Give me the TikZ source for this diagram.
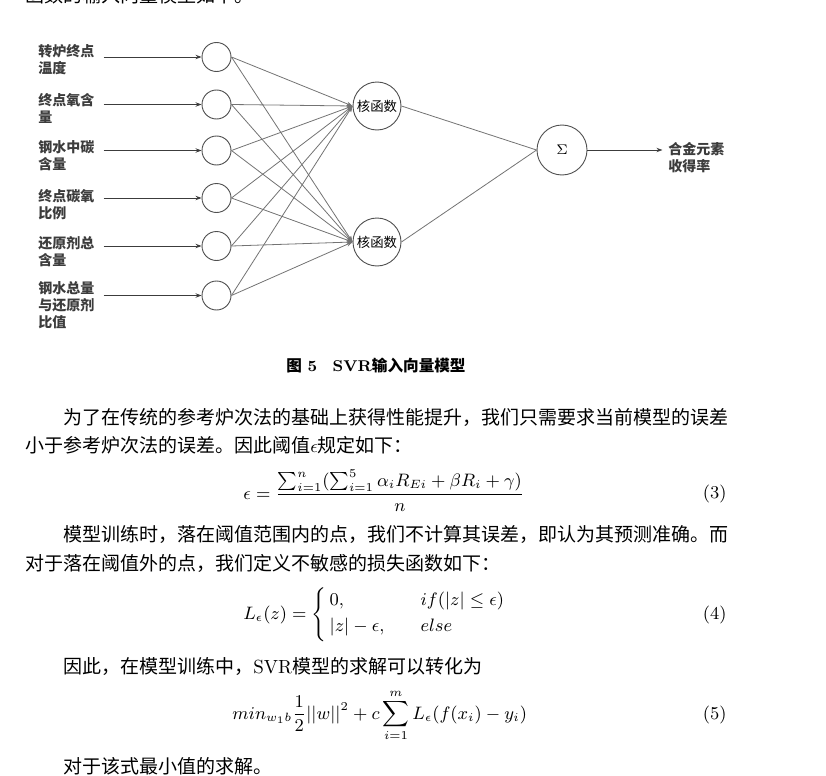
\documentclass[tikz,border=0pt]{standalone}
\usepackage{amsmath}
\usepackage{amssymb}
\usepackage{fontspec}
\usepackage{tikz}
\usetikzlibrary{arrows.meta,positioning}
\newfontfamily\cjk{Noto Sans CJK SC}
\usepackage{xcolor}
\definecolor{circgray}{RGB}{80,80,80}
\definecolor{linkgray}{RGB}{115,115,115}
\definecolor{feedgray}{RGB}{60,60,60}
\definecolor{labelgray}{RGB}{60,60,60}

\tikzset{
	neuron/.style={circle, draw=circgray, line width=0.45pt, minimum size=14.5pt, inner sep=0pt},
	kernel/.style={neuron, minimum size=24pt, font=\cjk\fontsize{6.7pt}{8pt}\selectfont},
	sumnode/.style={neuron, minimum size=25pt, font=\fontsize{7.5pt}{9pt}\selectfont},
	inlabel/.style={anchor=north west, inner sep=0pt, align=left, text=labelgray, font=\cjk\bfseries\fontsize{7pt}{8.5pt}\selectfont},
	feed/.style={-{Stealth[length=3pt,width=2.2pt]}, line width=0.45pt, draw=feedgray},
	link/.style={-{Stealth[length=3pt,width=2.2pt]}, line width=0.4pt, draw=linkgray},
	bodytext/.style={anchor=base west, inner sep=0pt, font=\cjk\fontsize{9.5pt}{14pt}\selectfont},
	eqtext/.style={anchor=base west, inner sep=0pt, font=\fontsize{9pt}{11pt}\selectfont},
	eqnum/.style={anchor=base east, inner sep=0pt, font=\fontsize{9pt}{11pt}\selectfont}
}

\begin{document}
\begin{tikzpicture}[x=0.5pt, y=-0.5pt]

	\useasboundingbox (0,0) rectangle (826,776);

		\node[bodytext] (intro) at (25, 3) {函数的输入向量模型如下。};

		\node[neuron] (in1) at (216.5, 57) {};
		\node[neuron] (in2) at (216.5, 104.5) {};
		\node[neuron] (in3) at (216.5, 150.5) {};
		\node[neuron] (in4) at (216.5, 198) {};
		\node[neuron] (in5) at (216.5, 246) {};
		\node[neuron] (in6) at (216.5, 295.5) {};

		\node[kernel] (k1) at (377, 106) {核函数};
		\node[kernel] (k2) at (377, 242) {核函数};
		\node[sumnode] (sig) at (562, 150) {$\Sigma$};

		\node[inlabel] (l1) at (38, 44.5) {转炉终点\\温度};
		\node[inlabel] (l2) at (38, 93.5) {终点氧含\\量};
		\node[inlabel] (l3) at (38, 140.5) {钢水中碳\\含量};
		\node[inlabel] (l4) at (38, 189.5) {终点碳氧\\比例};
		\node[inlabel] (l5) at (38, 236.5) {还原剂总\\含量};
		\node[inlabel] (l6) at (38, 281.5) {钢水总量\\与还原剂\\比值};

		\coordinate[left=49pt of in1] (s1);
		\coordinate[left=49pt of in2] (s2);
		\coordinate[left=49pt of in3] (s3);
		\coordinate[left=49pt of in4] (s4);
		\coordinate[left=49pt of in5] (s5);
		\coordinate[left=49pt of in6] (s6);

		\draw[feed] (s1) -- (in1);
		\draw[feed] (s2) -- (in2);
		\draw[feed] (s3) -- (in3);
		\draw[feed] (s4) -- (in4);
		\draw[feed] (s5) -- (in5);
		\draw[feed] (s6) -- (in6);

		\draw[link] (in1.east) -- (k1.west);
		\draw[link] (in2.east) -- (k1.west);
		\draw[link] (in3.east) -- (k1.west);
		\draw[link] (in4.east) -- (k1.west);
		\draw[link] (in5.east) -- (k1.west);
		\draw[link] (in6.east) -- (k1.west);

		\draw[link] (in1.east) -- (k2.west);
		\draw[link] (in2.east) -- (k2.west);
		\draw[link] (in3.east) -- (k2.west);
		\draw[link] (in4.east) -- (k2.west);
		\draw[link] (in5.east) -- (k2.west);
		\draw[link] (in6.east) -- (k2.west);

		\draw[line width=0.4pt, linkgray] (k1.east) -- (sig.west);
		\draw[line width=0.4pt, linkgray] (k2.east) -- (sig.west);

		\coordinate[right=37.5pt of sig] (out);
		\draw[feed] (sig.east) -- (out);
		\node[inlabel] (lout) at (668, 141.5) {合金元素\\收得率};

		\node[anchor=base, inner sep=0pt, font=\fontsize{7.8pt}{9pt}\selectfont] (cap) at (376, 371)
			{{\cjk\bfseries 图}\ \textbf{5}\quad\textbf{SVR}{\cjk\bfseries 输入向量模型}};

		\node[bodytext] (p1a) at (63, 424) {为了在传统的参考炉次法的基础上获得性能提升，我们只需要求当前模型的误差};
		\node[bodytext] (p1b) at (25, 452) {小于参考炉次法的误差。因此阈值{\rmfamily$\epsilon$}规定如下：};

		\node[eqtext] (eq3) at (243, 499)
			{$\displaystyle \epsilon=\frac{\sum_{i=1}^{n}(\sum_{i=1}^{5}\alpha_iR_{Ei}+\beta R_i+\gamma)}{n}$};
		\node[eqnum] (tag3) at (727, 498) {(3)};

		\node[bodytext] (p2a) at (63, 541) {模型训练时，落在阈值范围内的点，我们不计算其误差，即认为其预测准确。而};
		\node[bodytext] (p2b) at (25, 570) {对于落在阈值外的点，我们定义不敏感的损失函数如下：};

		\node[eqtext] (eq4) at (243, 619)
			{$\displaystyle L_\epsilon(z)=\left\{\begin{array}{@{\,}l@{\qquad}l} 0, & if(|z|\leq\epsilon)\\[2pt] |z|-\epsilon, & else\end{array}\right.$};
		\node[eqnum] (tag4) at (727, 619) {(4)};

		\node[bodytext] (p3) at (63, 673) {因此，在模型训练中，{\rmfamily SVR}模型的求解可以转化为};

		\node[eqtext] (eq5) at (232, 719)
			{$\displaystyle min_{w_1b}\frac{1}{2}||w||^2+c\sum_{i=1}^{m}L_\epsilon(f(x_i)-y_i)$};
		\node[eqnum] (tag5) at (727, 719) {(5)};

		\node[bodytext] (p4) at (63, 773) {对于该式最小值的求解。};

\end{tikzpicture}
\end{document}
